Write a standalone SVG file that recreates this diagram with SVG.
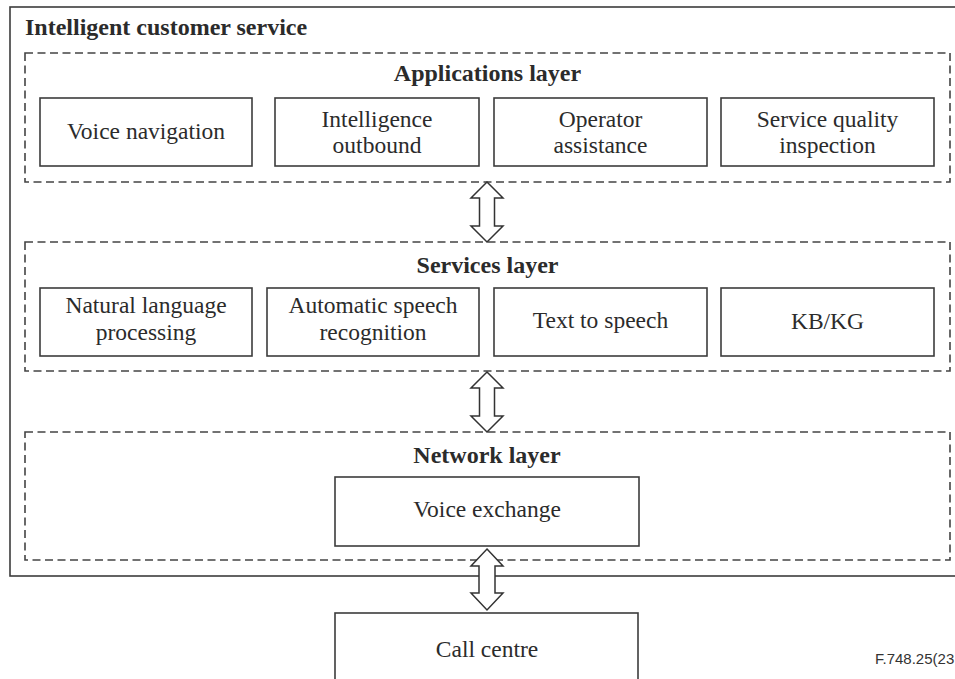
<svg xmlns="http://www.w3.org/2000/svg" width="955" height="679" viewBox="0 0 955 679">
  <style>
    .frame { fill: none; stroke: #3c3c3c; stroke-width: 1.6; }
    .layer { fill: none; stroke: #444; stroke-width: 1.6; stroke-dasharray: 8 4.5; }
    .box { fill: #fff; stroke: #3c3c3c; stroke-width: 1.6; }
    .arrow { fill: #fff; stroke: #333; stroke-width: 1.5; stroke-linejoin: miter; }
    .title { font-family: "Liberation Serif", "Times New Roman", serif; font-weight: bold; font-size: 24px; fill: #2b2b2b; }
    .label { font-family: "Liberation Serif", "Times New Roman", serif; font-size: 23.5px; fill: #2b2b2b; text-anchor: middle; }
    .tag { font-family: "Liberation Sans", Arial, sans-serif; font-size: 15px; fill: #333; }
  </style>
  <rect width="955" height="679" fill="#fff"/>

  <!-- outer system boundary -->
  <g id="intelligent-customer-service">
    <rect class="frame" x="10" y="7" width="960" height="569"/>
    <text class="title" x="25" y="35">Intelligent customer service</text>
  </g>

  <!-- applications layer -->
  <g id="applications-layer">
    <rect class="layer" x="25" y="53" width="925" height="129"/>
    <text class="title" x="487.5" y="81" text-anchor="middle">Applications layer</text>
  </g>
  <g id="voice-navigation">
    <rect class="box" x="40" y="98" width="212" height="68"/>
    <text class="label" x="146" y="139">Voice navigation</text>
  </g>
  <g id="intelligence-outbound">
    <rect class="box" x="275" y="98" width="204" height="68"/>
    <text class="label" x="377" y="127">Intelligence</text>
    <text class="label" x="377" y="153">outbound</text>
  </g>
  <g id="operator-assistance">
    <rect class="box" x="494" y="98" width="213" height="68"/>
    <text class="label" x="600.5" y="127">Operator</text>
    <text class="label" x="600.5" y="153">assistance</text>
  </g>
  <g id="service-quality-inspection">
    <rect class="box" x="721" y="98" width="213" height="68"/>
    <text class="label" x="827.5" y="127">Service quality</text>
    <text class="label" x="827.5" y="153">inspection</text>
  </g>

  <!-- services layer -->
  <g id="services-layer">
    <rect class="layer" x="25" y="242" width="925" height="129"/>
    <text class="title" x="487.5" y="273" text-anchor="middle">Services layer</text>
  </g>
  <g id="natural-language-processing">
    <rect class="box" x="40" y="288" width="212" height="68"/>
    <text class="label" x="146" y="313">Natural language</text>
    <text class="label" x="146" y="340">processing</text>
  </g>
  <g id="automatic-speech-recognition">
    <rect class="box" x="267" y="288" width="212" height="68"/>
    <text class="label" x="373" y="313">Automatic speech</text>
    <text class="label" x="373" y="340">recognition</text>
  </g>
  <g id="text-to-speech">
    <rect class="box" x="494" y="288" width="213" height="68"/>
    <text class="label" x="600.5" y="328">Text to speech</text>
  </g>
  <g id="kb-kg">
    <rect class="box" x="721" y="288" width="213" height="68"/>
    <text class="label" x="827.5" y="329">KB/KG</text>
  </g>

  <!-- network layer -->
  <g id="network-layer">
    <rect class="layer" x="25" y="432" width="925" height="128"/>
    <text class="title" x="487" y="463" text-anchor="middle">Network layer</text>
  </g>
  <g id="voice-exchange">
    <rect class="box" x="335" y="477" width="304" height="69"/>
    <text class="label" x="487" y="517">Voice exchange</text>
  </g>

  <!-- external call centre -->
  <g id="call-centre">
    <rect class="box" x="335" y="613" width="303" height="90"/>
    <text class="label" x="487" y="657">Call centre</text>
  </g>

  <!-- two-way block arrows between layers -->
  <g id="connectors">
    <polygon class="arrow" points="487,182 503,198 494.5,198 494.5,226 503,226 487,242 471,226 479.5,226 479.5,198 471,198"/>
    <polygon class="arrow" points="487,372 503,388 494.5,388 494.5,416 503,416 487,432 471,416 479.5,416 479.5,388 471,388"/>
    <polygon class="arrow" points="487,549 503,566 495,566 495,593 503,593 487,610 471,593 479,593 479,566 471,566"/>
  </g>

  <text class="tag" x="875" y="664">F.748.25(23</text>
</svg>
